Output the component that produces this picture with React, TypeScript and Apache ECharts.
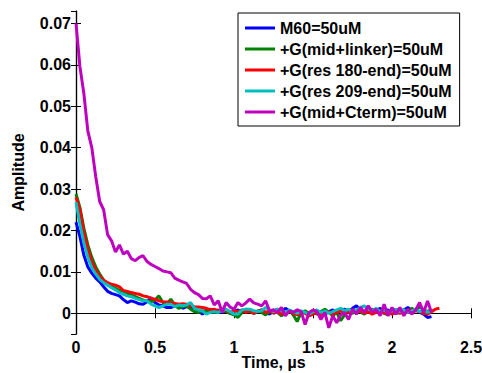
import React, { useEffect, useRef } from "react";
import * as echarts from "echarts";

const T_STEP = 0.025;

const SERIES_NAMES = [
  "M60=50uM",
  "+G(mid+linker)=50uM",
  "+G(res 180-end)=50uM",
  "+G(res 209-end)=50uM",
  "+G(mid+Cterm)=50uM",
];
const COLORS = ["#0000ff", "#008000", "#ff0000", "#00bfbf", "#bf00bf"];

const blue = [
  0.022, 0.0185, 0.014, 0.0112, 0.0097, 0.0085, 0.0076, 0.0064, 0.0053, 0.0048,
  0.0045, 0.0042, 0.0033, 0.0026, 0.003, 0.0027, 0.0023, 0.0022, 0.0028, 0.0038,
  0.0026, 0.002, 0.0018, 0.0014, 0.0014, 0.0018, 0.0022, 0.0012, 0.0016, 0.0013,
  0.0014, 0.0006, -0.0002, 0.0008, 0.001, 0.0004, 0.0008, 0.0002, 0.0006, 0.0,
  0.0004,
  0.0008, 0.0002, 0.001, 0.0006, 0.0, 0.0004, 0.0008, 0.0002, -0.0002, 0.0006,
  0.001, 0.0004, 0.0012, 0.0006, 0.0002, 0.0008, 0.0, 0.0004, -0.0004, 0.0002,
  0.0006, 0.0, -0.0002, 0.0004, 0.0008, 0.0002, 0.0006, 0.001, 0.0004, 0.0012,
  0.0018, 0.0008, 0.0004, 0.001, 0.0002, 0.0006, 0.0012, 0.0004, 0.0008, 0.0002,
  0.001, 0.0004, 0.0008, 0.0014, 0.0006, 0.001, 0.0002, -0.0002, -0.001, -0.0008,
];

const green = [
  0.0288, 0.0255, 0.0205, 0.0165, 0.0135, 0.0112, 0.0095, 0.008, 0.0072, 0.0065,
  0.006, 0.0055, 0.0052, 0.0048, 0.0044, 0.004, 0.0036, 0.0032, 0.003, 0.0028,
  0.0032, 0.0042, 0.0026, 0.0022, 0.0034, 0.002, 0.0012, 0.0016, 0.0018, 0.001,
  0.0004, 0.0002, 0.0006, 0.0004, 0.0008, 0.0002, 0.0006, 0.001, 0.0004, 0.0,
  -0.0004,
  -0.001, 0.0002, 0.001, 0.0004, 0.0, 0.0006, 0.0002, -0.0004, 0.0004, 0.0008,
  0.0002, -0.0006, 0.0, 0.0006, -0.0004, -0.002, 0.0002, 0.0006, 0.0, 0.0004,
  -0.0002, 0.0004, 0.001, 0.0002, -0.0006, 0.0002, -0.0018, -0.0004, 0.0004, 0.0,
  0.0008, 0.0004, -0.0002, 0.0006, 0.001, 0.0002, 0.0006, 0.0, -0.0004, 0.0004,
  0.001, 0.0004, 0.0008, 0.0002, 0.0012, 0.0006, 0.0016, 0.0008, 0.0004, 0.001,
];

const red = [
  0.028, 0.025, 0.0195, 0.0155, 0.0125, 0.0104, 0.009, 0.008, 0.0074, 0.007,
  0.0068, 0.0064, 0.0055, 0.0053, 0.005, 0.0048, 0.0046, 0.0042, 0.004, 0.0036,
  0.0034, 0.003, 0.0028, 0.0027, 0.0026, 0.0024, 0.0022, 0.0023, 0.0022, 0.0018,
  0.0016, 0.0015, 0.0014, 0.0012, 0.0008, 0.001, 0.0006, 0.0004, 0.0008, 0.0002,
  0.0006,
  0.0004, 0.0008, 0.0002, 0.0006, 0.0, 0.0004, 0.0008, 0.0002, 0.0006, 0.0,
  0.0004, -0.0002, 0.0002, 0.0006, 0.0, -0.0004, 0.0002, 0.0, -0.0006, -0.0002,
  0.0002, -0.0004, 0.0, 0.0004, -0.0002, 0.0002, 0.0006, 0.0, 0.0004, 0.0008,
  0.0002, 0.0006, 0.0, 0.0004, -0.0002, 0.0002, 0.0006, 0.0, 0.0004, -0.0002,
  0.0002, 0.0, 0.0004, 0.0002, 0.0008, 0.0006, 0.0004, 0.0, -0.0002, 0.0004,
  0.001, 0.0012,
];

const cyan = [
  0.0268, 0.0215, 0.017, 0.0135, 0.011, 0.0095, 0.0082, 0.0074, 0.0068, 0.0062,
  0.0056, 0.005, 0.0046, 0.0042, 0.004, 0.0036, 0.0033, 0.003, 0.003, 0.0022,
  0.0018, 0.0014, 0.0018, 0.0022, 0.0022, 0.0016, 0.002, 0.0018, 0.002, 0.0026,
  0.0012, 0.0008, 0.0006, -0.0002, 0.0002, 0.0004, 0.0002, 0.0006, 0.001, 0.0004,
  -0.0002,
  -0.0002, 0.0008, 0.001, 0.001, 0.0006, 0.0004, 0.0006, 0.0014, 0.0008, 0.0004,
  0.001, 0.0006, 0.0002, 0.0008, 0.0004, 0.0, 0.0006, 0.0002, -0.0002, 0.0004,
  0.0008, 0.0002, 0.0006, 0.0, 0.0004, 0.0008, 0.0012, 0.0006, 0.001, 0.0004,
  0.0008, 0.0014, 0.0018, 0.001, 0.0006, 0.0012, 0.0004, 0.0008, 0.0002, 0.0006,
  0.001, 0.0004, 0.0008, 0.0002, 0.0006, 0.001, 0.0004, 0.0008, 0.0002, 0.0006,
];

const magenta = [
  0.07, 0.0595, 0.053, 0.044, 0.04, 0.033, 0.027, 0.025, 0.019, 0.0175,
  0.0148, 0.0165, 0.0143, 0.015, 0.0132, 0.0127, 0.0135, 0.0139, 0.0125, 0.0118,
  0.0113, 0.0108, 0.0102, 0.01, 0.0098, 0.0085, 0.008, 0.0076, 0.0072, 0.0058,
  0.005, 0.0045, 0.0036, 0.0035, 0.0042, 0.002, 0.003, 0.0003, 0.0026, 0.0015,
  0.001,
  0.0026, 0.0018, 0.0025, 0.0034, 0.0025, 0.0022, 0.0018, 0.003, 0.0006, 0.0008,
  0.0002, 0.0014, -0.0006, 0.0006, 0.0002, 0.0008, 0.0004, -0.0027, 0.0002, 0.0008,
  0.0004, -0.0015, 0.0002, -0.0035, -0.0006, -0.0023, -0.0004, 0.0002, -0.0015, 0.001,
  -0.0002, 0.0014, 0.0002, 0.0018, 0.0002, 0.001, -0.0006, 0.0022, -0.0006, 0.0014,
  -0.0002, 0.0014, -0.0006, 0.001, -0.0002, 0.0008, 0.0026, 0.0002, 0.003, 0.0002,
];

const SERIES_VALUES = [blue, green, red, cyan, magenta];

const X_MIN = 0;
const X_MAX = 2.5;
const X_INTERVAL = 0.5;
const Y_MIN = -0.005;
const Y_MAX = 0.073;

const FONT = "'Liberation Sans', Arial, Helvetica, sans-serif";

export default function App() {
  const ref = useRef<HTMLDivElement>(null);
  useEffect(() => {
    if (!ref.current) return;
    const chart = echarts.init(ref.current, undefined, { renderer: "svg" });
    const labelStyle = {
      color: "#000",
      fontFamily: FONT,
      fontWeight: "bold" as const,
      fontSize: 16,
    };
    const tick = { show: true, inside: true, length: 5, lineStyle: { color: "#000", width: 1 } };
    const line = { show: true, lineStyle: { color: "#000", width: 1.2 } };
    const yFmt = (v: number) => String(parseFloat(v.toFixed(3)));
    chart.setOption({
      animation: false,
      backgroundColor: "#fff",
      grid: {
        left: 76,
        right: 11,
        top: 11,
        bottom: 39,
        containLabel: false,
        outerBoundsMode: "none",
      },
      legend: {
        orient: "vertical",
        left: 238,
        top: 13,
        padding: [7, 8, 6, 7],
        itemGap: 5,
        itemWidth: 30,
        itemHeight: 3,
        icon: "rect",
        backgroundColor: "#fff",
        borderColor: "#000",
        borderWidth: 1,
        textStyle: { ...labelStyle, lineHeight: 16 },
        data: SERIES_NAMES,
      },
      xAxis: [
        {
          type: "value",
          min: X_MIN,
          max: X_MAX,
          interval: X_INTERVAL,
          position: "bottom",
          name: "Time, µs",
          nameLocation: "middle",
          nameGap: 20,
          nameMoveOverlap: false,
          nameTextStyle: { ...labelStyle, lineHeight: 16 },
          axisLine: line,
          axisTick: tick,
          axisLabel: { ...labelStyle, margin: 5 },
          splitLine: { show: false },
        },
        {
          type: "value",
          min: X_MIN,
          max: X_MAX,
          interval: X_INTERVAL,
          position: "top",
          axisLine: line,
          axisTick: tick,
          axisLabel: { show: false },
          splitLine: { show: false },
        },
      ],
      yAxis: [
        {
          type: "value",
          min: Y_MIN,
          max: Y_MAX,
          splitNumber: 8,
          position: "left",
          name: "Amplitude",
          nameLocation: "middle",
          nameGap: 50,
          nameMoveOverlap: false,
          nameTextStyle: labelStyle,
          axisLine: line,
          axisTick: tick,
          axisLabel: {
            ...labelStyle,
            margin: 5,
            showMinLabel: false,
            showMaxLabel: false,
            formatter: yFmt,
          },
          splitLine: { show: false },
        },
        {
          type: "value",
          min: Y_MIN,
          max: Y_MAX,
          splitNumber: 8,
          position: "right",
          axisLine: line,
          axisTick: tick,
          axisLabel: { show: false },
          splitLine: { show: false },
        },
      ],
      series: SERIES_NAMES.map((name, i) => ({
        name,
        type: "line",
        xAxisIndex: 0,
        yAxisIndex: 0,
        showSymbol: false,
        symbol: "none",
        color: COLORS[i],
        lineStyle: { color: COLORS[i], width: 3 },
        data: SERIES_VALUES[i].map((v, k) => [k * T_STEP, v]),
        z: 2 + i,
      })),
    });
    return () => chart.dispose();
  }, []);
  return (
    <div
      ref={ref}
      style={{ position: "fixed", left: 0, top: 0, width: 482, height: 373 }}
    />
  );
}
